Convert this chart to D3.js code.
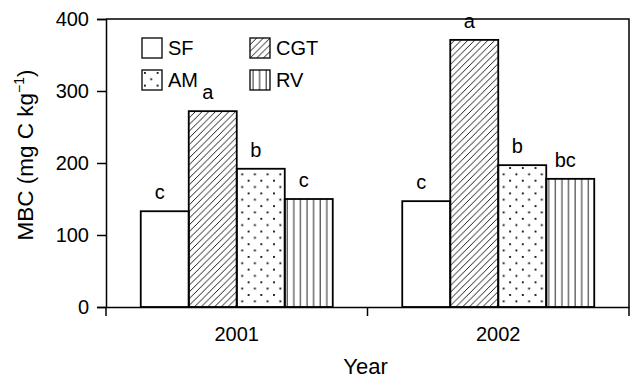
<!DOCTYPE html>
<html>
<head>
<meta charset="utf-8">
<script src="https://cdn.jsdelivr.net/npm/d3@7"></script>
<style>
  body { margin: 0; background: #fff; }
  text { font-family: "Liberation Sans", Arial, sans-serif; fill: #000; }
</style>
</head>
<body>
<div id="chart"></div>
<script>
const years = ['2001', '2002'];
const treatments = ['SF', 'CGT', 'AM', 'RV'];
const mbc2001 = [133, 272, 192, 150];
const mbc2002 = [147, 371, 197, 178];
const letters2001 = ['c', 'a', 'b', 'c'];
const letters2002 = ['c', 'a', 'b', 'bc'];
const yTicks = [0, 100, 200, 300, 400];

const width = 631, height = 378;
const margin = { top: 19, right: 2, bottom: 71, left: 106 };
const plotW = width - margin.left - margin.right;
const plotH = height - margin.top - margin.bottom;
const FONT = '"Liberation Sans", Arial, sans-serif';

const data = years.map((yr, i) => ({
  year: yr,
  values: treatments.map((t, j) => ({
    key: t,
    value: (i === 0 ? mbc2001 : mbc2002)[j],
    letter: (i === 0 ? letters2001 : letters2002)[j]
  }))
}));

const svg = d3.select('#chart').append('svg')
  .attr('width', width)
  .attr('height', height);

// fill patterns
const defs = svg.append('defs');
defs.append('pattern').attr('id', 'p-diag')
  .attr('patternUnits', 'userSpaceOnUse').attr('width', 6.7).attr('height', 6.7)
  .call(p => p.append('path').attr('d', 'M-1,7.7 L7.7,-1 M-1,1 L1,-1 M5.7,7.7 L7.7,5.7')
    .attr('stroke', '#000').attr('stroke-width', 0.9));
defs.append('pattern').attr('id', 'p-dots')
  .attr('patternUnits', 'userSpaceOnUse').attr('width', 12.7).attr('height', 12.7)
  .call(p => {
    p.append('rect').attr('x', 2).attr('y', 2).attr('width', 1.8).attr('height', 1.8).attr('fill', '#000');
    p.append('rect').attr('x', 8.3).attr('y', 8.3).attr('width', 1.8).attr('height', 1.8).attr('fill', '#000');
  });
defs.append('pattern').attr('id', 'p-vert')
  .attr('patternUnits', 'userSpaceOnUse').attr('width', 6.6).attr('height', 10)
  .call(p => p.append('line').attr('x1', 3).attr('x2', 3).attr('y1', 0).attr('y2', 10)
    .attr('stroke', '#222').attr('stroke-width', 1));

const fillFor = d3.scaleOrdinal()
  .domain(treatments)
  .range(['#fff', 'url(#p-diag)', 'url(#p-dots)', 'url(#p-vert)']);

const x0 = d3.scaleBand()
  .domain(years)
  .range([margin.left, margin.left + plotW]);

const groupW = 192;
const x1 = d3.scaleBand()
  .domain(treatments)
  .range([(x0.bandwidth() - groupW) / 2, (x0.bandwidth() + groupW) / 2]);

const y = d3.scaleLinear()
  .domain([0, 400])
  .range([margin.top + plotH, margin.top]);

// frame (top and right)
svg.append('path')
  .attr('d', `M${margin.left},${margin.top}H${margin.left + plotW}V${margin.top + plotH}`)
  .attr('fill', 'none').attr('stroke', '#000').attr('stroke-width', 1.5);

// bars
const groups = svg.append('g')
  .selectAll('g')
  .data(data)
  .join('g')
    .attr('transform', d => `translate(${x0(d.year)},0)`);

groups.selectAll('rect')
  .data(d => d.values)
  .join('rect')
    .attr('x', d => x1(d.key))
    .attr('y', d => y(d.value))
    .attr('width', x1.bandwidth())
    .attr('height', d => y(0) - y(d.value))
    .attr('fill', d => fillFor(d.key))
    .attr('stroke', '#000')
    .attr('stroke-width', 1.8);

groups.selectAll('text.sig')
  .data(d => d.values)
  .join('text')
    .attr('class', 'sig')
    .attr('x', d => x1(d.key) + x1.bandwidth() / 2 - 5)
    .attr('y', d => y(d.value) - 12)
    .attr('text-anchor', 'middle')
    .attr('font-size', 20)
    .text(d => d.letter);

// y axis
const yAxis = svg.append('g')
  .attr('transform', `translate(${margin.left},0)`)
  .call(d3.axisLeft(y).tickValues(yTicks).tickSize(9).tickPadding(8));
yAxis.select('.domain').attr('stroke-width', 1.5);
yAxis.selectAll('.tick line').attr('stroke-width', 1.5);
yAxis.selectAll('.tick text').attr('font-size', 20).attr('font-family', FONT);

// x axis
const xAxis = svg.append('g')
  .attr('transform', `translate(0,${margin.top + plotH})`)
  .call(d3.axisBottom(x0).tickSize(0).tickPadding(20));
xAxis.select('.domain').attr('stroke-width', 1.5);
xAxis.selectAll('.tick text').attr('font-size', 20).attr('font-family', FONT);
xAxis.selectAll('.sep')
  .data([margin.left, x0('2002'), margin.left + plotW])
  .join('line')
    .attr('class', 'sep')
    .attr('x1', d => d).attr('x2', d => d)
    .attr('y1', 0).attr('y2', 9)
    .attr('stroke', '#000').attr('stroke-width', 1.5);

// axis titles
svg.append('text')
  .attr('transform', `translate(33,155) rotate(-90)`)
  .attr('text-anchor', 'middle')
  .attr('font-size', 22.5)
  .call(t => {
    t.append('tspan').text('MBC (mg C kg');
    t.append('tspan').attr('dy', -9).attr('font-size', 14).text('\u22121');
    t.append('tspan').attr('dy', 9).text(')');
  });

svg.append('text')
  .attr('x', x0('2002') - 2)
  .attr('y', 374)
  .attr('text-anchor', 'middle')
  .attr('font-size', 22)
  .text('Year');

// legend
const legend = svg.append('g')
  .selectAll('g')
  .data(treatments)
  .join('g')
    .attr('transform', (d, i) => `translate(${142 + (i % 2) * 108},${38 + Math.floor(i / 2) * 32})`);
legend.append('rect')
  .attr('width', 20).attr('height', 20)
  .attr('fill', d => fillFor(d))
  .attr('stroke', '#000').attr('stroke-width', 1.3);
legend.append('text')
  .attr('x', 26)
  .attr('y', 17)
  .attr('font-size', 20)
  .text(d => d);
</script>
</body>
</html>
